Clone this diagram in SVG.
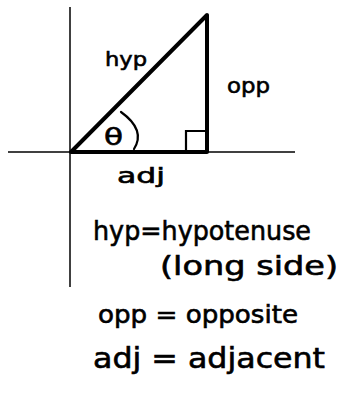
<svg xmlns="http://www.w3.org/2000/svg" width="342" height="394" viewBox="0 0 342 394">
<style>
.axis{stroke:#000;stroke-width:1.5;fill:none}
.tri{stroke:#000;stroke-width:4;fill:none;stroke-linejoin:round;stroke-linecap:round}
.thin{stroke:#000;stroke-width:2.2;fill:none;stroke-linecap:round}
text{font-family:"DejaVu Sans","Liberation Sans",sans-serif;fill:#000;stroke:#000;stroke-width:0.6}
</style>
<rect width="342" height="394" fill="#fff"/>
<g id="axes">
<line class="axis" x1="70" y1="7" x2="70" y2="287"/>
<line class="axis" x1="8" y1="152" x2="295" y2="152"/>
</g>
<g id="triangle">
<polygon class="tri" points="71,152 207,15 207,152"/>
<polyline class="thin" points="186,152 186,131 207,131"/>
<path class="thin" d="M121,112 Q146,130 134,149"/>
</g>
<g id="labels">
<text x="105" y="66" font-size="20" textLength="42" lengthAdjust="spacingAndGlyphs">hyp</text>
<text x="227" y="93" font-size="21" textLength="43" lengthAdjust="spacingAndGlyphs">opp</text>
<text x="117" y="183" font-size="21" textLength="48" lengthAdjust="spacingAndGlyphs">adj</text>
<text x="104" y="145" font-size="23" textLength="19" lengthAdjust="spacingAndGlyphs">θ</text>
</g>
<g id="definitions">
<text x="93" y="240" font-size="27" textLength="218" lengthAdjust="spacingAndGlyphs">hyp=hypotenuse</text>
<text x="160" y="275" font-size="27" textLength="178" lengthAdjust="spacingAndGlyphs">(long side)</text>
<text x="98" y="323" font-size="24" textLength="200" lengthAdjust="spacingAndGlyphs">opp = opposite</text>
<text x="93" y="368" font-size="28" textLength="232" lengthAdjust="spacingAndGlyphs">adj = adjacent</text>
</g>
</svg>
